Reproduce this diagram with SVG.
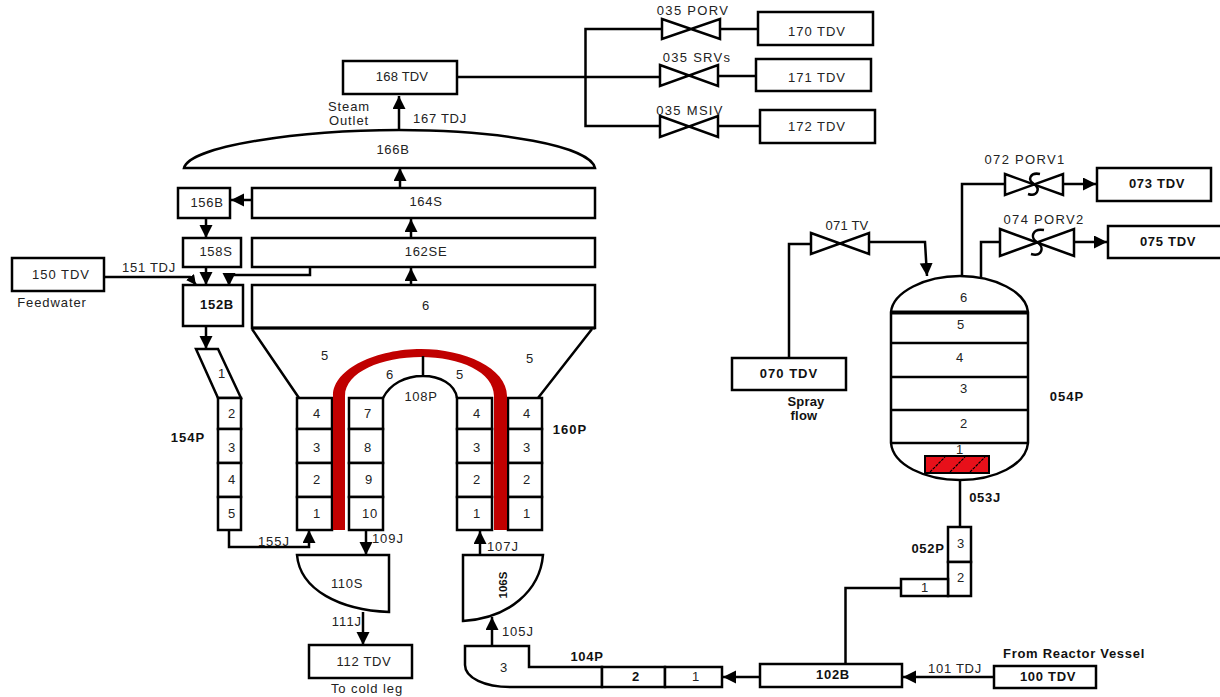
<svg xmlns="http://www.w3.org/2000/svg" width="1220" height="697" viewBox="0 0 1220 697">
<style>
text{font-family:"Liberation Sans",Arial,sans-serif;font-size:13px;fill:#222;text-anchor:middle;letter-spacing:.7px}
.b{font-weight:700;fill:#111}
.s{letter-spacing:.9px}
.v{letter-spacing:1.3px}
.w{letter-spacing:1px}
.t{letter-spacing:.2px}
.n rect,.n path,.n polygon{fill:#fff;stroke:#000;stroke-width:2.5}
.c path,.c line{fill:none;stroke:#000;stroke-width:2.5}
.a{marker-end:url(#ah)}
.a2{marker-end:url(#ahs)}
</style>
<defs>
<marker id="ah" markerUnits="userSpaceOnUse" markerWidth="14" markerHeight="14" refX="13" refY="6.5" orient="auto"><path d="M0 0L13 6.500L0 13Z" fill="#000"/></marker>
<marker id="ahs" markerUnits="userSpaceOnUse" markerWidth="12" markerHeight="12" refX="10" refY="5" orient="auto"><path d="M0 0L10 5L0 10Z" fill="#000"/></marker>
</defs>
<g id="connectors" class="c">
<path d="M457 77H660M585.500 77V29H662M585.500 77V126H660M720 29H758M718 76H756M718 126H760"/>
<path class="a" d="M399 131V96"/>
<path class="a" d="M400 188V168"/>
<path class="a" d="M411 238V219"/>
<path class="a" d="M411 285V268"/>
<path class="a" d="M252 200H231"/>
<path class="a" d="M206 218V238"/>
<path class="a" d="M206 267V285"/>
<path class="a2" d="M104 277H190L196 285"/>
<path class="a" d="M310 267V275H229V286"/>
<path class="a" d="M206 326V349"/>
<path class="a" d="M229 530V547H309V530"/>
<path class="a" d="M366 530V555"/>
<path class="a" d="M363 612V645"/>
<path class="a" d="M480 555V531"/>
<path class="a" d="M492 646V617"/>
<path class="a" d="M760 677H723"/>
<path class="a" d="M994 677H903"/>
<path d="M845.500 664V588H901"/>
<path d="M960 527V480"/>
<path d="M962 276V184H1005"/>
<path class="a" d="M1063 184H1096"/>
<path d="M981 277V242H1001"/>
<path class="a" d="M1074 242H1107"/>
<path d="M789 358V244H811"/>
<path class="a" d="M869 242H925L927 276"/>
</g>
<g id="n168" class="n"><rect x="343" y="61" width="114" height="33"/><text x="402" y="81" class="t">168 TDV</text></g>
<g id="n170" class="n"><rect x="758" y="12" width="115" height="33"/><text x="817" y="36" class="w">170 TDV</text></g>
<g id="n171" class="n"><rect x="756" y="59" width="115" height="32"/><text x="817" y="82" class="w">171 TDV</text></g>
<g id="n172" class="n"><rect x="760" y="110" width="115" height="33"/><text x="817" y="131" class="w">172 TDV</text></g>
<g id="v035porv" class="n"><path d="M662 19L720 39V19L662 39Z"/><text x="693" y="15" class="v">035 PORV</text></g>
<g id="v035srv" class="n"><path d="M660 65L718 86V65L660 86Z"/><text x="697" y="62" class="v">035 SRVs</text></g>
<g id="v035msiv" class="n"><path d="M660 116L718 137V116L660 137Z"/><text x="690" y="115" class="v">035 MSIV</text></g>
<g id="n166" class="n"><path d="M184 168C190 146 300 130 399 130C500 130 590 146 595 168Z"/><text x="393" y="154">166B</text></g>
<g id="n164" class="n"><rect x="252" y="188" width="343" height="30"/><text x="426" y="206">164S</text></g>
<g id="n162" class="n"><rect x="252" y="238" width="343" height="29"/><text x="426" y="256">162SE</text></g>
<g id="n160top" class="n"><rect x="252" y="285" width="343" height="43"/><text x="426" y="310">6</text></g>
<g id="n156" class="n"><rect x="178" y="188" width="52" height="30"/><text x="207" y="207">156B</text></g>
<g id="n158" class="n"><rect x="183" y="238" width="58" height="29"/><text x="216" y="256">158S</text></g>
<g id="n150" class="n"><rect x="12" y="258" width="92" height="33"/><text x="61" y="279" class="w">150 TDV</text><text x="52" y="307" class="s">Feedwater</text></g>
<g id="n152" class="n"><rect x="183" y="285" width="60" height="41"/><text x="217" y="309" class="b">152B</text></g>
<g id="n154" class="n">
<polygon points="196,349 218,349 241,398 218,398"/><text x="222" y="378">1</text>
<rect x="218" y="398" width="23" height="31"/><text x="232" y="418">2</text>
<rect x="218" y="429" width="23" height="34"/><text x="232" y="452">3</text>
<rect x="218" y="463" width="23" height="34"/><text x="232" y="484">4</text>
<rect x="218" y="497" width="23" height="33"/><text x="232" y="518">5</text>
<text x="188" y="442" class="b w">154P</text></g>
<g id="n160" class="n">
<path d="M252 329L299 398M592 329L538 398" style="fill:none"/>
<path d="M252 328H595" style="fill:none;stroke-width:3"/>
<text x="325" y="360">5</text><text x="530" y="363">5</text>
<rect x="297" y="398" width="35" height="31"/><text x="317" y="418">4</text>
<rect x="297" y="429" width="35" height="34"/><text x="317" y="452">3</text>
<rect x="297" y="463" width="35" height="34"/><text x="317" y="484">2</text>
<rect x="297" y="497" width="35" height="33"/><text x="317" y="518">1</text>
<rect x="508" y="398" width="34" height="31"/><text x="527" y="418">4</text>
<rect x="508" y="429" width="34" height="34"/><text x="527" y="452">3</text>
<rect x="508" y="463" width="34" height="34"/><text x="527" y="484">2</text>
<rect x="508" y="497" width="34" height="33"/><text x="527" y="518">1</text>
<text x="570" y="434" class="b w">160P</text></g>
<g id="tube"><path d="M333 530V396C333 368 378 349 421 349C464 349 507 368 507 396V530H494V396C494 372 460 357 421 357C382 357 345 372 345 396V530Z" fill="#c00000"/></g>
<g id="n108" class="n">
<path d="M383 398C390 384 405 376 423 376C440 376 455 384 457 398M423 376V356" style="fill:none"/>
<text x="390" y="379">6</text><text x="460" y="379">5</text><text x="421" y="401">108P</text>
<rect x="349" y="398" width="34" height="31"/><text x="368" y="418">7</text>
<rect x="349" y="429" width="34" height="34"/><text x="368" y="452">8</text>
<rect x="349" y="463" width="34" height="34"/><text x="369" y="484">9</text>
<rect x="349" y="497" width="34" height="33"/><text x="370" y="518">10</text>
<rect x="457" y="398" width="35" height="31"/><text x="477" y="418">4</text>
<rect x="457" y="429" width="35" height="34"/><text x="477" y="452">3</text>
<rect x="457" y="463" width="35" height="34"/><text x="477" y="484">2</text>
<rect x="457" y="497" width="35" height="33"/><text x="477" y="518">1</text></g>
<g id="n110" class="n"><path d="M297 555H389V612C340 610 300 590 297 555Z"/><text x="347" y="588">110S</text></g>
<g id="n112" class="n"><rect x="309" y="645" width="103" height="33"/><text x="364" y="666">112 TDV</text><text x="367" y="693" class="s">To cold leg</text></g>
<g id="n106" class="n"><path d="M463 555H543C540 590 510 618 463 621Z"/><text transform="translate(507 585) rotate(-90)" class="b" style="font-size:11.500px;letter-spacing:0">106S</text></g>
<g id="n104" class="n"><path d="M465 646H529V667H602V687H510C485 687 465 678 465 665Z"/><text x="504" y="672">3</text>
<rect x="602" y="667" width="63" height="20"/><text x="636" y="681" class="b">2</text>
<rect x="665" y="667" width="57" height="20"/><text x="696" y="681">1</text>
<text x="587" y="661" class="b">104P</text></g>
<g id="n102" class="n"><rect x="760" y="664" width="142" height="23"/><text x="833" y="679" class="b">102B</text></g>
<g id="n100" class="n"><rect x="994" y="666" width="102" height="22"/><text x="1048" y="681" class="b">100 TDV</text><text x="1074" y="658" class="b">From Reactor Vessel</text></g>
<g id="n052" class="n"><rect x="948" y="527" width="23" height="35"/><text x="961" y="548">3</text>
<rect x="948" y="562" width="23" height="34"/><text x="961" y="582">2</text>
<rect x="901" y="579" width="47" height="17"/><text x="925" y="592">1</text>
<text x="928" y="553" class="b">052P</text></g>
<g id="n054" class="n">
<path d="M891 312C893 292 925 276 960 276C995 276 1026 292 1028 312V443C1026 465 995 480 960 480C925 480 893 465 891 443Z"/>
<path d="M891 312.500H1028" style="stroke-width:4;fill:none"/>
<path d="M891 343H1028M891 377H1028M891 410H1028M891 443H1028" style="fill:none"/>
<rect x="925" y="456" width="64" height="17" style="fill:#e8101a;stroke-width:2"/>
<path d="M930 472L945 457M950 472L965 457M970 472L985 457" style="fill:none;stroke-width:1.200;stroke-dasharray:3 1"/>
<text x="964" y="302">6</text><text x="961" y="329">5</text><text x="960" y="362">4</text><text x="964" y="393">3</text><text x="964" y="428">2</text><text x="960" y="454">1</text>
<text x="1067" y="401" class="b w">054P</text></g>
<g id="v071" class="n"><path d="M811 233L869 254V233L811 254Z"/><text x="847" y="230" class="t">071 TV</text></g>
<g id="n070" class="n"><rect x="732" y="358" width="114" height="32"/><text x="789" y="378" class="b w">070 TDV</text><text x="806" y="406" class="b t">Spray</text><text x="804" y="420" class="b t">flow</text></g>
<g id="v072" class="n"><path d="M1005 174L1063 195V174L1005 195Z"/><path d="M1040 174C1030 172 1027 180 1034 184C1041 189 1037 197 1028 194" style="fill:none"/><text x="1025" y="164" class="v">072 PORV1</text></g>
<g id="n073" class="n"><rect x="1097" y="168" width="114" height="33"/><text x="1157" y="188" class="b">073 TDV</text></g>
<g id="v074" class="n"><path d="M1000 229L1074 256V229L1000 256Z"/><path d="M1044 230C1032 228 1030 238 1037 242C1045 247 1042 257 1031 254" style="fill:none"/><text x="1044" y="224" class="v">074 PORV2</text></g>
<g id="n075" class="n"><rect x="1108" y="226" width="115" height="32"/><text x="1168" y="246" class="b">075 TDV</text></g>
<g id="labels">
<text x="349" y="111" class="s">Steam</text><text x="349" y="125" class="s">Outlet</text>
<text x="440" y="123">167 TDJ</text>
<text x="149" y="272">151 TDJ</text>
<text x="274" y="546" class="w">155J</text>
<text x="388" y="543" class="w">109J</text>
<text x="503" y="551" class="w">107J</text>
<text x="347" y="626" class="w">111J</text>
<text x="518" y="636" class="w">105J</text>
<text x="955" y="673">101 TDJ</text>
<text x="985" y="502" class="b">053J</text>
</g>
</svg>
